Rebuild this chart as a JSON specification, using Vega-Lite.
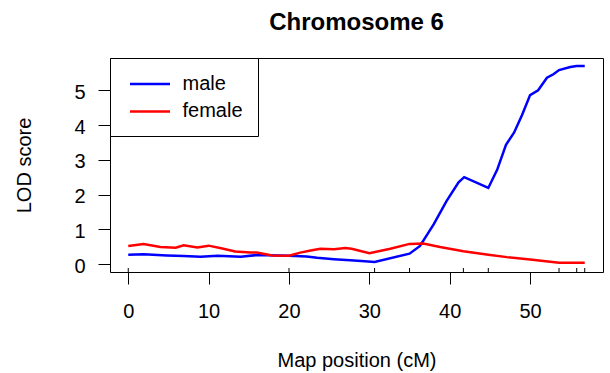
{
  "$schema": "https://vega.github.io/schema/vega-lite/v6.json",
  "width": 493,
  "height": 214,
  "autosize": {"type": "none"},
  "padding": {"left": 110, "top": 58, "right": 7, "bottom": 101},
  "background": "white",
  "title": {
    "text": "Chromosome 6",
    "font": "Liberation Sans",
    "fontSize": 24,
    "fontWeight": "bold",
    "color": "black",
    "anchor": "middle",
    "frame": "group",
    "baseline": "alphabetic",
    "offset": 4
  },
  "datasets": {
    "lod": [
      {"pos": 0, "lod": 0.27, "sex": "male"},
      {"pos": 1.9, "lod": 0.28, "sex": "male"},
      {"pos": 4.8, "lod": 0.25, "sex": "male"},
      {"pos": 6.9, "lod": 0.23, "sex": "male"},
      {"pos": 9.0, "lod": 0.21, "sex": "male"},
      {"pos": 11.1, "lod": 0.24, "sex": "male"},
      {"pos": 14.0, "lod": 0.21, "sex": "male"},
      {"pos": 16.0, "lod": 0.26, "sex": "male"},
      {"pos": 20.0, "lod": 0.24, "sex": "male"},
      {"pos": 22.2, "lod": 0.22, "sex": "male"},
      {"pos": 23.5, "lod": 0.18, "sex": "male"},
      {"pos": 25.6, "lod": 0.14, "sex": "male"},
      {"pos": 27.6, "lod": 0.11, "sex": "male"},
      {"pos": 29.0, "lod": 0.09, "sex": "male"},
      {"pos": 30.65, "lod": 0.06, "sex": "male"},
      {"pos": 35.0, "lod": 0.30, "sex": "male"},
      {"pos": 36.3, "lod": 0.52, "sex": "male"},
      {"pos": 38.0, "lod": 1.14, "sex": "male"},
      {"pos": 39.6, "lod": 1.81, "sex": "male"},
      {"pos": 41.1, "lod": 2.35, "sex": "male"},
      {"pos": 41.8, "lod": 2.50, "sex": "male"},
      {"pos": 44.8, "lod": 2.19, "sex": "male"},
      {"pos": 45.9, "lod": 2.71, "sex": "male"},
      {"pos": 47.0, "lod": 3.43, "sex": "male"},
      {"pos": 48.0, "lod": 3.78, "sex": "male"},
      {"pos": 49.0, "lod": 4.29, "sex": "male"},
      {"pos": 50.0, "lod": 4.86, "sex": "male"},
      {"pos": 51.0, "lod": 5.00, "sex": "male"},
      {"pos": 52.1, "lod": 5.36, "sex": "male"},
      {"pos": 52.9, "lod": 5.46, "sex": "male"},
      {"pos": 53.6, "lod": 5.58, "sex": "male"},
      {"pos": 55.0, "lod": 5.67, "sex": "male"},
      {"pos": 55.8, "lod": 5.70, "sex": "male"},
      {"pos": 56.8, "lod": 5.70, "sex": "male"},
      {"pos": 0, "lod": 0.52, "sex": "female"},
      {"pos": 1.9, "lod": 0.58, "sex": "female"},
      {"pos": 4.0, "lod": 0.49, "sex": "female"},
      {"pos": 5.9, "lod": 0.47, "sex": "female"},
      {"pos": 6.9, "lod": 0.54, "sex": "female"},
      {"pos": 8.6, "lod": 0.48, "sex": "female"},
      {"pos": 10.0, "lod": 0.53, "sex": "female"},
      {"pos": 11.7, "lod": 0.45, "sex": "female"},
      {"pos": 13.3, "lod": 0.36, "sex": "female"},
      {"pos": 15.2, "lod": 0.33, "sex": "female"},
      {"pos": 16.0, "lod": 0.33, "sex": "female"},
      {"pos": 17.9, "lod": 0.25, "sex": "female"},
      {"pos": 20.0, "lod": 0.24, "sex": "female"},
      {"pos": 21.4, "lod": 0.33, "sex": "female"},
      {"pos": 22.7, "lod": 0.39, "sex": "female"},
      {"pos": 23.9, "lod": 0.44, "sex": "female"},
      {"pos": 25.6, "lod": 0.43, "sex": "female"},
      {"pos": 27.0, "lod": 0.46, "sex": "female"},
      {"pos": 27.8, "lod": 0.44, "sex": "female"},
      {"pos": 30.0, "lod": 0.31, "sex": "female"},
      {"pos": 32.6, "lod": 0.44, "sex": "female"},
      {"pos": 35.0, "lod": 0.58, "sex": "female"},
      {"pos": 36.7, "lod": 0.59, "sex": "female"},
      {"pos": 38.8, "lod": 0.49, "sex": "female"},
      {"pos": 41.7, "lod": 0.37, "sex": "female"},
      {"pos": 44.8, "lod": 0.27, "sex": "female"},
      {"pos": 47.1, "lod": 0.20, "sex": "female"},
      {"pos": 50.0, "lod": 0.13, "sex": "female"},
      {"pos": 53.6, "lod": 0.04, "sex": "female"},
      {"pos": 56.8, "lod": 0.04, "sex": "female"}
    ],
    "markers": [
      {"pos": 0},
      {"pos": 20.0},
      {"pos": 30.65},
      {"pos": 35.0},
      {"pos": 41.7},
      {"pos": 44.8},
      {"pos": 53.6},
      {"pos": 55.8},
      {"pos": 56.8}
    ]
  },
  "layer": [
    {
      "data": {"name": "lod"},
      "mark": {"type": "line", "strokeWidth": 2.5, "interpolate": "linear"},
      "encoding": {
        "x": {
          "field": "pos",
          "type": "quantitative",
          "scale": {"domain": [-2.272, 59.072], "nice": false, "zero": false},
          "axis": {
            "values": [0, 10, 20, 30, 40, 50],
            "title": "Map position (cM)",
            "labelPadding": 17,
            "titleX": 246.5,
            "titleY": 94,
            "titleBaseline": "alphabetic",
            "titleAlign": "center"
          }
        },
        "y": {
          "field": "lod",
          "type": "quantitative",
          "scale": {"domain": [-0.228, 5.928], "nice": false, "zero": false},
          "axis": {
            "values": [0, 1, 2, 3, 4, 5],
            "title": "LOD score",
            "labelPadding": 13,
            "labelOffset": 2,
            "titleAngle": 270,
            "titleX": -80,
            "titleY": 107,
            "titleBaseline": "alphabetic",
            "titleAlign": "center"
          }
        },
        "color": {
          "field": "sex",
          "type": "nominal",
          "sort": ["male", "female"],
          "scale": {"domain": ["male", "female"], "range": ["#0000FF", "#FF0000"]},
          "legend": {
            "title": null,
            "orient": "top-left",
            "offset": 0,
            "strokeColor": "black",
            "fillColor": "white",
            "padding": 14.5,
            "symbolType": "M-0.6,0H3.4",
            "symbolSize": 400,
            "symbolStrokeWidth": 2.5,
            "labelFont": "Liberation Sans",
            "labelFontSize": 20,
            "labelColor": "black",
            "labelOffset": 35,
            "rowPadding": 5.4
          }
        }
      }
    },
    {
      "data": {"name": "markers"},
      "mark": {"type": "rule", "color": "black", "strokeWidth": 1},
      "encoding": {
        "x": {"field": "pos", "type": "quantitative"},
        "y": {"datum": -0.228},
        "y2": {"datum": -0.113}
      }
    }
  ],
  "config": {
    "font": "Liberation Sans",
    "view": {"stroke": "black", "strokeWidth": 1},
    "axis": {
      "domain": false,
      "grid": false,
      "ticks": true,
      "tickSize": 12,
      "tickColor": "black",
      "tickWidth": 1,
      "labelFont": "Liberation Sans",
      "labelFontSize": 20,
      "labelColor": "black",
      "labelFlush": false,
      "labelOverlap": false,
      "titleFont": "Liberation Sans",
      "titleFontSize": 20,
      "titleFontWeight": "normal",
      "titleColor": "black"
    }
  }
}
